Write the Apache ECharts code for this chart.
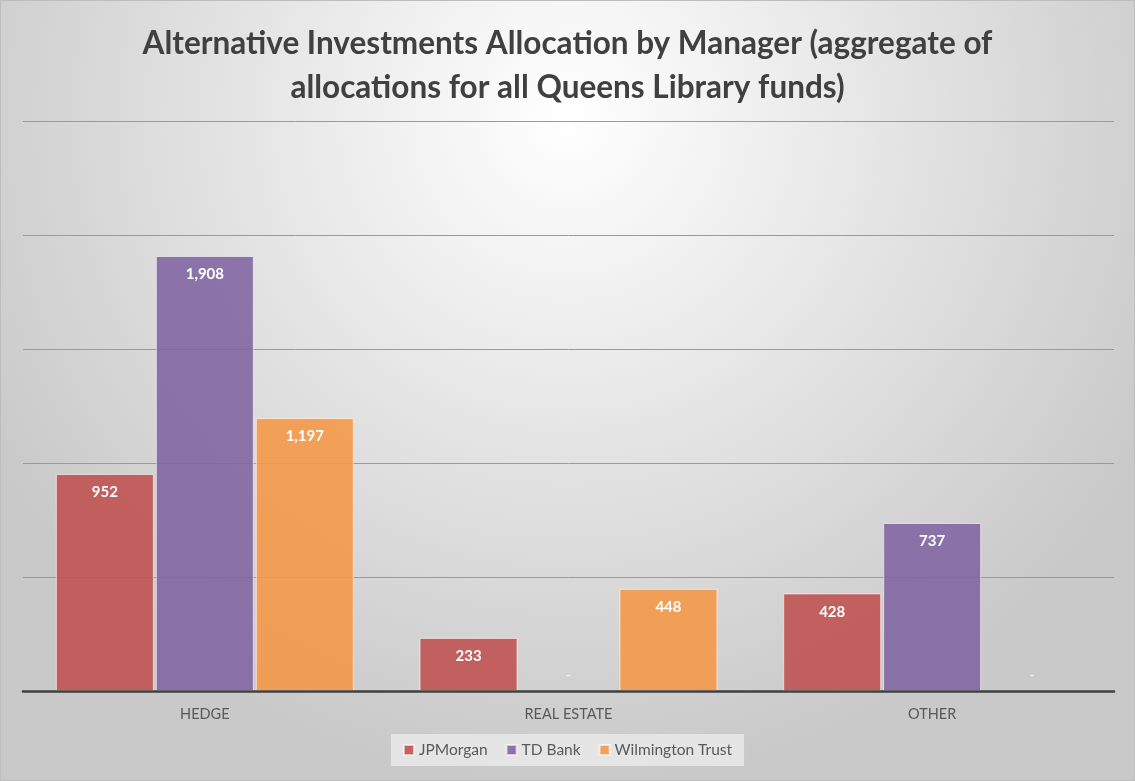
<!DOCTYPE html>
<html>
<head>
<meta charset="utf-8">
<script src="https://cdn.jsdelivr.net/npm/echarts@6/dist/echarts.min.js"></script>
<style>
  html, body { margin: 0; padding: 0; }
  #main { width: 1135px; height: 781px; box-sizing: border-box; border: 1px solid #bdbdbd; }
</style>
</head>
<body>
<div id="main"></div>
<script>
var categories = ['HEDGE', 'REAL ESTATE', 'OTHER'];
var jpMorgan = [952, 233, 428];
var tdBank = [1908, 0, 737];
var wilmington = [1197, 448, 0];
var seriesNames = ['JPMorgan', 'TD Bank', 'Wilmington Trust'];
var seriesColors = ['rgba(190,80,77,0.88)', 'rgba(128,100,162,0.88)', 'rgba(245,150,70,0.88)'];

var chart = echarts.init(document.getElementById('main'));

function makeData(values) {
  // zero values get a "-" label sitting just above the axis, no border
  return values.map(function (v) {
    if (v === 0) {
      return {
        value: v,
        itemStyle: { borderWidth: 0 },
        label: { position: 'insideBottom', distance: 8, color: '#f4f4f4', fontWeight: 'normal' }
      };
    }
    return v;
  });
}

function makeSeries(i, values) {
  return {
    name: seriesNames[i],
    type: 'bar',
    data: makeData(values),
    barWidth: 98,
    barGap: '2%',
    itemStyle: { color: seriesColors[i], borderColor: 'rgba(255,255,255,0.6)', borderWidth: 1 },
    label: {
      show: true,
      position: 'insideTop',
      distance: 11,
      color: '#ffffff',
      fontFamily: 'Lato',
      fontWeight: 'bold',
      fontSize: 15,
      formatter: function (p) {
        return p.value === 0 ? '-' : p.value.toLocaleString('en-US');
      }
    }
  };
}

chart.setOption({
  backgroundColor: {
    type: 'radial', x: 0.5, y: 0.15, r: 0.85,
    colorStops: [{ offset: 0, color: '#ffffff' }, { offset: 1, color: '#c9c9c9' }]
  },
  title: {
    text: 'Alternative Investments Allocation by Manager (aggregate of\nallocations for all Queens Library funds)',
    left: 'center',
    top: 16,
    textStyle: { fontFamily: 'Lato', fontWeight: 'bold', fontSize: 31.5, color: '#404040', lineHeight: 44 }
  },
  legend: {
    bottom: 14,
    left: 'center',
    itemWidth: 10,
    itemHeight: 10,
    itemGap: 18,
    icon: 'rect',
    padding: [8, 12],
    backgroundColor: 'rgba(235,235,235,0.8)',
    textStyle: { fontFamily: 'Lato', fontSize: 15.5, color: '#595959' },
    data: seriesNames
  },
  grid: { left: 22, right: 20, top: 120, bottom: 89 },
  xAxis: {
    type: 'category',
    data: categories,
    z: 5,
    axisLine: { lineStyle: { color: '#404040', width: 2.5 } },
    axisTick: { show: false },
    axisLabel: { fontFamily: 'Lato', fontSize: 14.5, color: '#595959', margin: 16 }
  },
  yAxis: {
    type: 'value',
    min: 0,
    max: 2500,
    interval: 500,
    axisLabel: { show: false },
    axisLine: { show: false },
    axisTick: { show: false },
    splitLine: { lineStyle: { color: '#9a9a9a', width: 1 } }
  },
  series: [makeSeries(0, jpMorgan), makeSeries(1, tdBank), makeSeries(2, wilmington)]
});
</script>
</body>
</html>
